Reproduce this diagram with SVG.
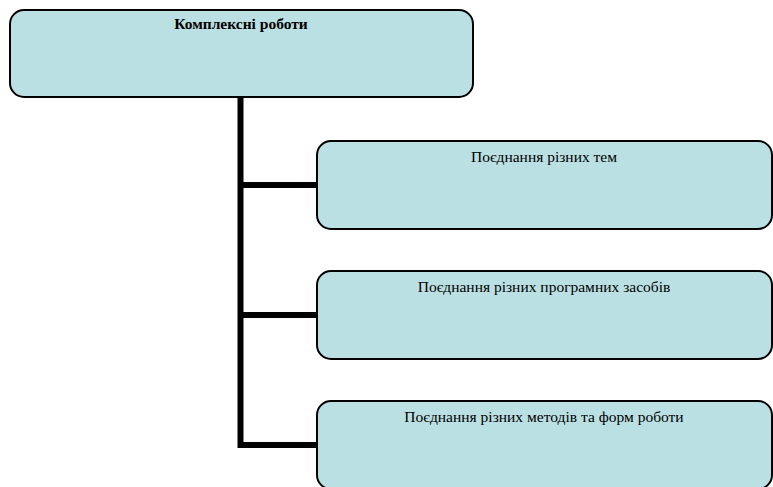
<svg xmlns="http://www.w3.org/2000/svg" width="773" height="487" viewBox="0 0 773 487">
<style>
.box{fill:#bbe0e3;stroke:#000;stroke-width:2}
.t{font-family:"Liberation Serif","Times New Roman",serif;font-size:15.5px;fill:#000;text-anchor:middle}
.b{font-weight:bold}
.c{stroke:#000;stroke-width:6;fill:none;stroke-linecap:butt;stroke-linejoin:miter}
</style>
<rect width="773" height="487" fill="#fff"/>
<g id="connectors">
<path class="c" d="M240.5 97 V445 H317"/>
<path class="c" d="M240.5 185 H317"/>
<path class="c" d="M240.5 315 H317"/>
</g>
<g id="root">
<rect class="box" x="10" y="10" width="463" height="87" rx="14"/>
<text class="t b" x="241" y="29">Комплексні роботи</text>
</g>
<g id="n1">
<rect class="box" x="317" y="141" width="455" height="88" rx="14"/>
<text class="t" x="544" y="162">Поєднання різних тем</text>
</g>
<g id="n2">
<rect class="box" x="317" y="271" width="455" height="88" rx="14"/>
<text class="t" x="544" y="292">Поєднання різних програмних засобів</text>
</g>
<g id="n3">
<rect class="box" x="317" y="401" width="455" height="88" rx="14"/>
<text class="t" x="544" y="422">Поєднання різних методів та форм роботи</text>
</g>
</svg>
